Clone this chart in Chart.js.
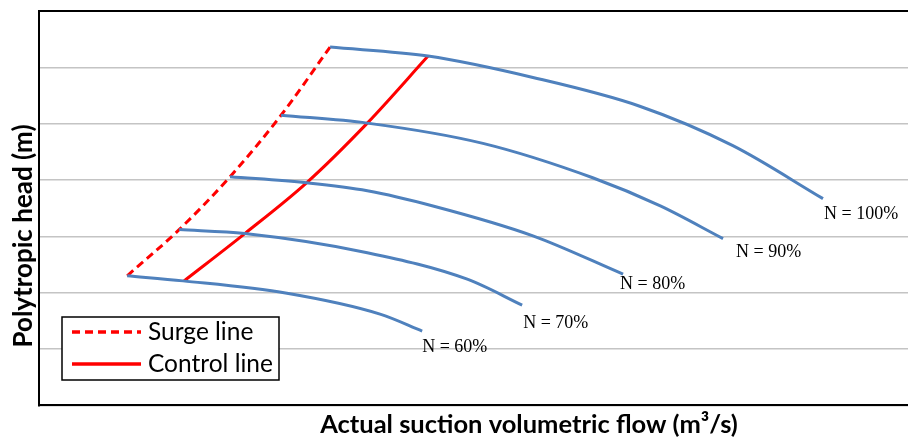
<!DOCTYPE html>
<html>
<head>
<meta charset="utf-8">
<script src="https://cdn.jsdelivr.net/npm/chart.js@4.4.1/dist/chart.umd.min.js"></script>
<style>
  html, body { margin: 0; padding: 0; background: #fff; overflow: hidden; }
  #wrap { width: 1020px; height: 441px; }
</style>
</head>
<body>
<div id="wrap"><canvas id="chart" width="1020" height="441"></canvas></div>
<script>
// performance map (no scale on the axes, so units are relative)
const flow100 = [2.97, 3.97, 5.04, 6.13, 7.08, 8.00];
const head100 = [6.36, 6.20, 5.82, 5.31, 4.61, 3.67];

const flow90 = [2.47, 3.35, 4.53, 5.65, 6.34, 6.98];
const head90 = [5.15, 5.01, 4.65, 4.04, 3.54, 2.96];

const flow80 = [1.95, 2.73, 3.35, 4.02, 5.04, 5.96];
const head80 = [4.06, 3.95, 3.81, 3.54, 3.01, 2.33];

const flow70 = [1.43, 2.10, 3.35, 4.37, 4.93];
const head70 = [3.12, 3.05, 2.71, 2.24, 1.78];

const flow60 = [0.90, 1.47, 2.53, 3.48, 3.91];
const head60 = [2.30, 2.21, 1.99, 1.62, 1.32];

const surgeFlow = [0.90, 1.43, 1.95, 2.47, 2.97];
const surgeHead = [2.30, 3.12, 4.06, 5.15, 6.36];

const controlFlow = [1.48, 2.10, 2.73, 3.35, 3.97];
const controlHead = [2.21, 3.05, 3.95, 5.01, 6.20];

const speedLabels = ['N = 100%', 'N = 90%', 'N = 80%', 'N = 70%', 'N = 60%'];
const yTicks = [0, 1, 2, 3, 4, 5, 6, 7];

// where each "N = ..." label sits relative to the end of its curve
const labelOffsets = [[1, 16], [13, 14], [-3, 10], [1, 18], [0, 16]];

const pts = (xs, ys) => xs.map((x, i) => ({ x: x, y: ys[i] }));

const blue = '#4f81bd';
const speedCurves = [
  pts(flow100, head100), pts(flow90, head90), pts(flow80, head80),
  pts(flow70, head70), pts(flow60, head60)
];

const datasets = speedCurves.map((d, i) => ({
  label: speedLabels[i],
  data: d,
  borderColor: blue,
  borderWidth: 3,
  pointRadius: 0,
  cubicInterpolationMode: 'monotone',
  speedIndex: i
}));

datasets.push({
  label: 'Surge line',
  data: pts(surgeFlow, surgeHead),
  borderColor: '#ff0000',
  borderWidth: 3,
  borderDash: [8, 5],
  pointRadius: 0,
  cubicInterpolationMode: 'monotone',
  inLegend: true
});
datasets.push({
  label: 'Control line',
  data: pts(controlFlow, controlHead),
  borderColor: '#ff0000',
  borderWidth: 3,
  pointRadius: 0,
  cubicInterpolationMode: 'monotone',
  inLegend: true
});

// "N = xx%" text next to the last point of every speed line
const speedLabelPlugin = {
  id: 'speedLabels',
  afterDatasetsDraw(chart) {
    const ctx = chart.ctx;
    ctx.save();
    ctx.font = '18px "Liberation Serif", "Times New Roman", serif';
    ctx.fillStyle = '#000';
    ctx.textBaseline = 'middle';
    ctx.textAlign = 'left';
    chart.data.datasets.forEach((ds, i) => {
      if (ds.speedIndex === undefined) return;
      const meta = chart.getDatasetMeta(i);
      const last = meta.data[meta.data.length - 1];
      const off = labelOffsets[ds.speedIndex];
      ctx.fillText(ds.label, last.x + off[0], last.y + off[1]);
    });
    ctx.restore();
  }
};

// boxed legend inside the plot, lower left
const boxLegendPlugin = {
  id: 'boxLegend',
  afterDraw(chart) {
    const ctx = chart.ctx;
    const bx = 62, by = 317, bw = 217, bh = 63;
    ctx.save();
    ctx.fillStyle = '#fff';
    ctx.fillRect(bx, by, bw, bh);
    ctx.strokeStyle = '#000';
    ctx.lineWidth = 1.5;
    ctx.strokeRect(bx, by, bw, bh);
    ctx.font = '24.5px Lato, "Open Sans", sans-serif';
    ctx.textBaseline = 'middle';
    let row = 0;
    chart.data.datasets.forEach(ds => {
      if (!ds.inLegend) return;
      const y = by + 15 + row * 32;
      ctx.strokeStyle = ds.borderColor;
      ctx.lineWidth = 3.5;
      ctx.setLineDash(ds.borderDash || []);
      ctx.beginPath();
      ctx.moveTo(bx + 10, y);
      ctx.lineTo(bx + 79, y);
      ctx.stroke();
      ctx.setLineDash([]);
      ctx.fillStyle = '#000';
      ctx.fillText(ds.label, bx + 86, y);
      row++;
    });
    ctx.restore();
  }
};

// y axis title sits a bit below the middle of the plot in the original
const yTitlePlugin = {
  id: 'yTitle',
  afterDraw(chart) {
    const ctx = chart.ctx;
    ctx.save();
    ctx.translate(24, 236);
    ctx.rotate(-Math.PI / 2);
    ctx.font = 'bold 26px Lato, "Open Sans", sans-serif';
    ctx.fillStyle = '#000';
    ctx.textAlign = 'center';
    ctx.textBaseline = 'middle';
    ctx.fillText('Polytropic head (m)', 0, 0);
    ctx.restore();
  }
};

new Chart(document.getElementById('chart'), {
  type: 'line',
  data: { datasets: datasets },
  options: {
    responsive: false,
    animation: false,
    layout: { padding: { left: 39, top: 11, right: 1, bottom: 0 } },
    plugins: { legend: { display: false }, tooltip: { enabled: false } },
    scales: {
      x: {
        type: 'linear',
        min: 0,
        max: 10,
        ticks: { display: false },
        grid: { display: false, drawTicks: false },
        border: { display: true, color: '#000', width: 2 },
        title: {
          display: true,
          text: 'Actual suction volumetric flow (m\u00b3/s)',
          color: '#000',
          font: { family: 'Lato, "Open Sans", sans-serif', size: 25.5, weight: 'bold' },
          padding: { top: 4, bottom: 1 }
        }
      },
      y: {
        type: 'linear',
        min: yTicks[0],
        max: yTicks[yTicks.length - 1],
        afterBuildTicks: axis => { axis.ticks = yTicks.map(v => ({ value: v })); },
        ticks: { display: false },
        grid: {
          drawTicks: false,
          color: c => (c.tick && c.tick.value === 7 ? '#000' : '#c4c4c4'),
          lineWidth: c => (c.tick && c.tick.value === 7 ? 2 : 1.5)
        },
        border: { display: true, color: '#000', width: 2 }
      }
    }
  },
  plugins: [speedLabelPlugin, boxLegendPlugin, yTitlePlugin]
});
</script>
</body>
</html>
